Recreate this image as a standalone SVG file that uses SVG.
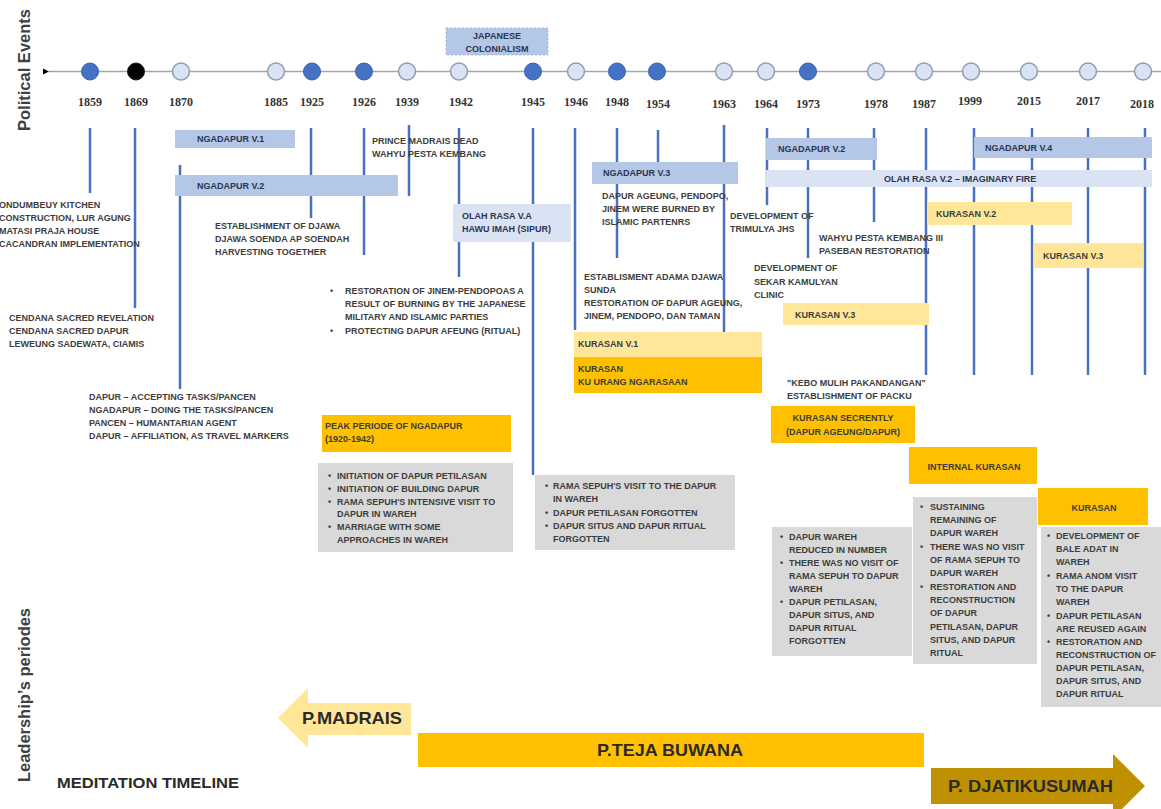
<svg xmlns="http://www.w3.org/2000/svg" width="1161" height="809" viewBox="0 0 1161 809">
<defs>
<style>
.t{font-family:"Liberation Sans",Arial,sans-serif;font-weight:bold;font-size:9px;fill:#3d3d3d}
.bl{font-family:"Liberation Sans",Arial,sans-serif;font-weight:bold;font-size:9px;fill:#2b3550}
.yr{font-family:"Liberation Serif","Times New Roman",serif;font-weight:bold;font-size:12px;fill:#333;text-anchor:middle}
.big{font-family:"Liberation Sans",Arial,sans-serif;font-weight:bold;fill:#2a2a2a}
.side{font-family:"Liberation Sans",Arial,sans-serif;font-weight:bold;font-size:16px;fill:#404040;text-anchor:middle}
.vl{stroke:#4A70C2;stroke-width:2.5;fill:none}
.cb{fill:#4472C4;stroke:#3A62AC;stroke-width:1}
.ck{fill:#000;stroke:#222;stroke-width:1}
.cl{fill:#DAE3F3;stroke:#8C9DB5;stroke-width:1.5}
.nb{fill:#B4C7E7}
.ob{fill:#DAE3F3}
.ky{fill:#FFE699}
.ko{fill:#FFC000}
.gr{fill:#D9D9D9}
</style>
<marker id="ah" markerWidth="8" markerHeight="8" refX="1" refY="4" orient="auto" markerUnits="userSpaceOnUse">
<path d="M7,1 L1,4 L7,7 Z" fill="#000"/>
</marker>
</defs>
<rect width="1161" height="809" fill="#fff"/>

<text class="side" transform="translate(30,70) rotate(-90)" textLength="122" lengthAdjust="spacingAndGlyphs">Political Events</text>
<text class="side" transform="translate(30,695) rotate(-90)" textLength="174" lengthAdjust="spacingAndGlyphs">Leadership’s periodes</text>

<g id="connectors">
<line x1="1161" y1="71.5" x2="49" y2="71.5" stroke="#A6A6A6" stroke-width="1.5" marker-end="url(#ah)"/>
<line class="vl" x1="90" y1="128" x2="90" y2="193"/>
<line class="vl" x1="135" y1="128" x2="135" y2="308"/>
<line class="vl" x1="180" y1="165" x2="180" y2="389"/>
<line class="vl" x1="311" y1="128" x2="311" y2="218"/>
<line class="vl" x1="364" y1="128" x2="364" y2="255"/>
<line class="vl" x1="409" y1="125" x2="409" y2="196"/>
<line class="vl" x1="459" y1="128" x2="459" y2="277"/>
<line class="vl" x1="533" y1="128" x2="533" y2="475"/>
<line class="vl" x1="575" y1="128" x2="575" y2="330"/>
<line class="vl" x1="617" y1="128" x2="617" y2="258"/>
<line class="vl" x1="658" y1="130" x2="658" y2="162"/>
<line class="vl" x1="724" y1="125" x2="724" y2="332"/>
<line class="vl" x1="767" y1="128" x2="767" y2="205"/>
<line class="vl" x1="808" y1="128" x2="808" y2="258"/>
<line class="vl" x1="874" y1="128" x2="874" y2="222"/>
<line class="vl" x1="926" y1="128" x2="926" y2="375"/>
<line class="vl" x1="974" y1="128" x2="974" y2="375"/>
<line class="vl" x1="1032" y1="128" x2="1032" y2="375"/>
<line class="vl" x1="1088" y1="128" x2="1088" y2="375"/>
<line class="vl" x1="1145" y1="128" x2="1145" y2="375"/>
</g>

<g id="timeline-points">
<circle class="cb" cx="90" cy="71.5" r="8.5"/>
<circle class="ck" cx="136" cy="71.5" r="8.5"/>
<circle class="cl" cx="181" cy="71.5" r="8.5"/>
<circle class="cl" cx="276" cy="71.5" r="8.5"/>
<circle class="cb" cx="312" cy="71.5" r="8.5"/>
<circle class="cb" cx="364" cy="71.5" r="8.5"/>
<circle class="cl" cx="407" cy="71.5" r="8.5"/>
<circle class="cl" cx="459" cy="71.5" r="8.5"/>
<circle class="cb" cx="533" cy="71.5" r="8.5"/>
<circle class="cl" cx="576" cy="71.5" r="8.5"/>
<circle class="cb" cx="617" cy="71.5" r="8.5"/>
<circle class="cb" cx="657" cy="71.5" r="8.5"/>
<circle class="cl" cx="724" cy="71.5" r="8.5"/>
<circle class="cl" cx="766" cy="71.5" r="8.5"/>
<circle class="cb" cx="808" cy="71.5" r="8.5"/>
<circle class="cl" cx="876" cy="71.5" r="8.5"/>
<circle class="cl" cx="924" cy="71.5" r="8.5"/>
<circle class="cl" cx="971" cy="71.5" r="8.5"/>
<circle class="cl" cx="1029" cy="71.5" r="8.5"/>
<circle class="cl" cx="1088" cy="71.5" r="8.5"/>
<circle class="cl" cx="1143" cy="71.5" r="8.5"/>
</g>

<g id="years">
<text class="yr" x="90" y="106">1859</text>
<text class="yr" x="136" y="106">1869</text>
<text class="yr" x="181" y="106">1870</text>
<text class="yr" x="276" y="106">1885</text>
<text class="yr" x="312" y="106">1925</text>
<text class="yr" x="364" y="106">1926</text>
<text class="yr" x="407" y="106">1939</text>
<text class="yr" x="461" y="106">1942</text>
<text class="yr" x="533" y="106">1945</text>
<text class="yr" x="576" y="106">1946</text>
<text class="yr" x="617" y="106">1948</text>
<text class="yr" x="658" y="108">1954</text>
<text class="yr" x="724" y="108">1963</text>
<text class="yr" x="766" y="108">1964</text>
<text class="yr" x="808" y="108">1973</text>
<text class="yr" x="876" y="108">1978</text>
<text class="yr" x="924" y="108">1987</text>
<text class="yr" x="970" y="105">1999</text>
<text class="yr" x="1029" y="105">2015</text>
<text class="yr" x="1088" y="105">2017</text>
<text class="yr" x="1142" y="108">2018</text>
</g>

<g id="japanese-colonialism">
<rect x="446" y="28" width="102" height="27" fill="#B4C7E7" stroke="#A9BCDD" stroke-dasharray="2 2"/>
<text class="bl" x="497" y="39" text-anchor="middle" font-size="8.5">JAPANESE</text>
<text class="bl" x="497" y="52" text-anchor="middle" font-size="8.5">COLONIALISM</text>
</g>

<g id="ngadapur-v1"><rect class="nb" x="175" y="130" width="120" height="18"/><text class="bl" x="197" y="142">NGADAPUR V.1</text></g>
<g id="ngadapur-v2-left"><rect class="nb" x="175" y="175" width="223" height="21"/><text class="bl" x="197" y="189">NGADAPUR V.2</text></g>
<g id="ngadapur-v3"><rect class="nb" x="592" y="162" width="146" height="22"/><text class="bl" x="603" y="176">NGADAPUR V.3</text></g>
<g id="ngadapur-v2-right"><rect class="nb" x="766" y="138" width="111" height="22"/><text class="bl" x="778" y="152">NGADAPUR V.2</text></g>
<g id="ngadapur-v4"><rect class="nb" x="974" y="137" width="178" height="21"/><text class="bl" x="985" y="151">NGADAPUR V.4</text></g>
<g id="olah-rasa-v2"><rect class="ob" x="766" y="170" width="386" height="17"/><text class="bl" x="884" y="182">OLAH RASA V.2 – IMAGINARY FIRE</text></g>
<g id="olah-rasa-va"><rect class="ob" x="453" y="204" width="118" height="38"/><text class="bl" x="462" y="219">OLAH RASA V.A</text><text class="bl" x="462" y="232">HAWU IMAH (SIPUR)</text></g>
<g id="kurasan-v2"><rect class="ky" x="927" y="202" width="145" height="23"/><text class="t" x="936" y="217">KURASAN V.2</text></g>
<g id="kurasan-v3-right"><rect class="ky" x="1033" y="243" width="110" height="25"/><text class="t" x="1043" y="259">KURASAN V.3</text></g>
<g id="kurasan-v3-mid"><rect class="ky" x="783" y="303" width="146" height="22"/><text class="t" x="795" y="318">KURASAN V.3</text></g>
<g id="kurasan-v1"><rect class="ky" x="574" y="332" width="188" height="25"/><text class="t" x="578" y="347">KURASAN V.1</text></g>
<g id="kurasan-ku-urang"><rect class="ko" x="574" y="357" width="188" height="36"/><text class="t" x="578" y="372">KURASAN</text><text class="t" x="578" y="385">KU URANG NGARASAAN</text></g>
<g id="kurasan-secrently"><rect class="ko" x="771" y="406" width="144" height="37"/><text class="t" x="843" y="421" text-anchor="middle">KURASAN SECRENTLY</text><text class="t" x="843" y="435" text-anchor="middle">(DAPUR AGEUNG/DAPUR)</text></g>
<g id="internal-kurasan"><rect class="ko" x="909" y="447" width="128" height="37"/><text class="t" x="974" y="470" text-anchor="middle">INTERNAL KURASAN</text></g>
<g id="kurasan"><rect class="ko" x="1038" y="488" width="110" height="37"/><text class="t" x="1094" y="511" text-anchor="middle">KURASAN</text></g>
<g id="peak-periode"><rect class="ko" x="322" y="415" width="189" height="37"/><text class="t" x="325" y="429">PEAK PERIODE OF NGADAPUR</text><text class="t" x="325" y="442">(1920-1942)</text></g>

<g id="note-1859">
<text class="t" x="-1" y="208">ONDUMBEUY KITCHEN</text>
<text class="t" x="-1" y="221">CONSTRUCTION, LUR AGUNG</text>
<text class="t" x="-1" y="234">MATASI PRAJA HOUSE</text>
<text class="t" x="-1" y="247">CACANDRAN IMPLEMENTATION</text>
</g>
<g id="note-1869">
<text class="t" x="9" y="321">CENDANA SACRED REVELATION</text>
<text class="t" x="9" y="334">CENDANA SACRED DAPUR</text>
<text class="t" x="9" y="347">LEWEUNG SADEWATA, CIAMIS</text>
</g>
<g id="note-1870">
<text class="t" x="89" y="400">DAPUR – ACCEPTING TASKS/PANCEN</text>
<text class="t" x="89" y="413">NGADAPUR – DOING THE TASKS/PANCEN</text>
<text class="t" x="89" y="426">PANCEN – HUMANTARIAN AGENT</text>
<text class="t" x="89" y="439">DAPUR – AFFILIATION, AS TRAVEL MARKERS</text>
</g>
<g id="note-1925">
<text class="t" x="215" y="229">ESTABLISHMENT OF DJAWA</text>
<text class="t" x="215" y="242">DJAWA SOENDA AP SOENDAH</text>
<text class="t" x="215" y="255">HARVESTING TOGETHER</text>
</g>
<g id="note-1939">
<text class="t" x="372" y="144">PRINCE MADRAIS DEAD</text>
<text class="t" x="372" y="157">WAHYU PESTA KEMBANG</text>
</g>
<g id="note-1942">
<text class="t" x="330" y="294">•</text><text class="t" x="345" y="294">RESTORATION OF JINEM-PENDOPOAS A</text>
<text class="t" x="345" y="307">RESULT OF BURNING BY THE JAPANESE</text>
<text class="t" x="345" y="320">MILITARY AND ISLAMIC PARTIES</text>
<text class="t" x="330" y="334">•</text><text class="t" x="345" y="334">PROTECTING DAPUR AFEUNG (RITUAL)</text>
</g>
<g id="note-1948">
<text class="t" x="602" y="199">DAPUR AGEUNG, PENDOPO,</text>
<text class="t" x="602" y="212">JINEM WERE BURNED BY</text>
<text class="t" x="602" y="225">ISLAMIC PARTENRS</text>
</g>
<g id="note-1946">
<text class="t" x="584" y="280">ESTABLISMENT ADAMA DJAWA</text>
<text class="t" x="584" y="293">SUNDA</text>
<text class="t" x="584" y="306">RESTORATION OF DAPUR AGEUNG,</text>
<text class="t" x="584" y="319">JINEM, PENDOPO, DAN TAMAN</text>
</g>
<g id="note-1963">
<text class="t" x="730" y="219">DEVELOPMENT OF</text>
<text class="t" x="730" y="232">TRIMULYA JHS</text>
</g>
<g id="note-1978">
<text class="t" x="819" y="241">WAHYU PESTA KEMBANG III</text>
<text class="t" x="819" y="254">PASEBAN RESTORATION</text>
</g>
<g id="note-1973">
<text class="t" x="754" y="271">DEVELOPMENT OF</text>
<text class="t" x="754" y="285">SEKAR KAMULYAN</text>
<text class="t" x="754" y="298">CLINIC</text>
</g>
<g id="note-kebo">
<text class="t" x="787" y="386">"KEBO MULIH PAKANDANGAN"</text>
<text class="t" x="787" y="399">ESTABLISHMENT OF PACKU</text>
</g>

<g id="grey-peak">
<rect class="gr" x="318" y="463" width="195" height="89"/>
<text class="t" x="328" y="479">•</text><text class="t" x="337" y="479">INITIATION OF DAPUR PETILASAN</text>
<text class="t" x="328" y="492">•</text><text class="t" x="337" y="492">INITIATION OF BUILDING DAPUR</text>
<text class="t" x="328" y="505">•</text><text class="t" x="337" y="505">RAMA SEPUH'S INTENSIVE VISIT TO</text>
<text class="t" x="337" y="517">DAPUR IN WAREH</text>
<text class="t" x="328" y="530">•</text><text class="t" x="337" y="530">MARRIAGE WITH SOME</text>
<text class="t" x="337" y="543">APPROACHES IN WAREH</text>
</g>
<g id="grey-1945">
<rect class="gr" x="535" y="475" width="200" height="75"/>
<text class="t" x="545" y="489">•</text><text class="t" x="553" y="489">RAMA SEPUH'S VISIT TO THE DAPUR</text>
<text class="t" x="553" y="502">IN WAREH</text>
<text class="t" x="545" y="516">•</text><text class="t" x="553" y="516">DAPUR PETILASAN FORGOTTEN</text>
<text class="t" x="545" y="529">•</text><text class="t" x="553" y="529">DAPUR SITUS AND DAPUR RITUAL</text>
<text class="t" x="553" y="542">FORGOTTEN</text>
</g>
<g id="grey-1973">
<rect class="gr" x="772" y="527" width="140" height="129"/>
<text class="t" x="780" y="540">•</text><text class="t" x="789" y="540">DAPUR WAREH</text>
<text class="t" x="789" y="553">REDUCED IN NUMBER</text>
<text class="t" x="780" y="566">•</text><text class="t" x="789" y="566">THERE WAS NO VISIT OF</text>
<text class="t" x="789" y="579">RAMA SEPUH TO DAPUR</text>
<text class="t" x="789" y="592">WAREH</text>
<text class="t" x="780" y="605">•</text><text class="t" x="789" y="605">DAPUR PETILASAN,</text>
<text class="t" x="789" y="618">DAPUR SITUS, AND</text>
<text class="t" x="789" y="631">DAPUR RITUAL</text>
<text class="t" x="789" y="644">FORGOTTEN</text>
</g>
<g id="grey-1987">
<rect class="gr" x="913" y="497" width="124" height="167"/>
<text class="t" x="920" y="510">•</text><text class="t" x="930" y="510">SUSTAINING</text>
<text class="t" x="930" y="523">REMAINING OF</text>
<text class="t" x="930" y="536">DAPUR WAREH</text>
<text class="t" x="920" y="550">•</text><text class="t" x="930" y="550">THERE WAS NO VISIT</text>
<text class="t" x="930" y="563">OF RAMA SEPUH TO</text>
<text class="t" x="930" y="576">DAPUR WAREH</text>
<text class="t" x="920" y="590">•</text><text class="t" x="930" y="590">RESTORATION AND</text>
<text class="t" x="930" y="603">RECONSTRUCTION</text>
<text class="t" x="930" y="616">OF DAPUR</text>
<text class="t" x="930" y="630">PETILASAN, DAPUR</text>
<text class="t" x="930" y="643">SITUS, AND DAPUR</text>
<text class="t" x="930" y="656">RITUAL</text>
</g>
<g id="grey-2015">
<rect class="gr" x="1041" y="527" width="120" height="180"/>
<text class="t" x="1047" y="539">•</text><text class="t" x="1056" y="539">DEVELOPMENT OF</text>
<text class="t" x="1056" y="552">BALE ADAT IN</text>
<text class="t" x="1056" y="565">WAREH</text>
<text class="t" x="1047" y="579">•</text><text class="t" x="1056" y="579">RAMA ANOM VISIT</text>
<text class="t" x="1056" y="592">TO THE DAPUR</text>
<text class="t" x="1056" y="605">WAREH</text>
<text class="t" x="1047" y="619">•</text><text class="t" x="1056" y="619">DAPUR PETILASAN</text>
<text class="t" x="1056" y="632">ARE REUSED AGAIN</text>
<text class="t" x="1047" y="645">•</text><text class="t" x="1056" y="645" font-size="8.3">RESTORATION AND</text>
<text class="t" x="1056" y="658" font-size="8.3">RECONSTRUCTION OF</text>
<text class="t" x="1056" y="671" font-size="8.3">DAPUR PETILASAN,</text>
<text class="t" x="1056" y="684" font-size="8.3">DAPUR SITUS, AND</text>
<text class="t" x="1056" y="697" font-size="8.3">DAPUR RITUAL</text>
</g>

<g id="p-madrais">
<polygon points="278,718 308,688 308,703 411,703 411,735 308,735 308,748" fill="#FFE699"/>
<text class="big" x="352" y="724" font-size="17" text-anchor="middle" textLength="100" lengthAdjust="spacingAndGlyphs">P.MADRAIS</text>
</g>
<g id="p-teja-buwana">
<rect x="418" y="733" width="506" height="34" fill="#FFC000"/>
<text class="big" x="597" y="756" font-size="17" textLength="146" lengthAdjust="spacingAndGlyphs">P.TEJA BUWANA</text>
</g>
<g id="p-djatikusumah">
<polygon points="931,768 1113,768 1113,754 1145,786 1113,818 1113,804 931,804" fill="#BF9000"/>
<text class="big" x="948" y="792" font-size="17" textLength="165" lengthAdjust="spacingAndGlyphs">P. DJATIKUSUMAH</text>
</g>
<g id="meditation-timeline">
<text class="big" x="57" y="788" font-size="15" fill="#3a3a3a" textLength="182" lengthAdjust="spacingAndGlyphs">MEDITATION TIMELINE</text>
</g>
</svg>
